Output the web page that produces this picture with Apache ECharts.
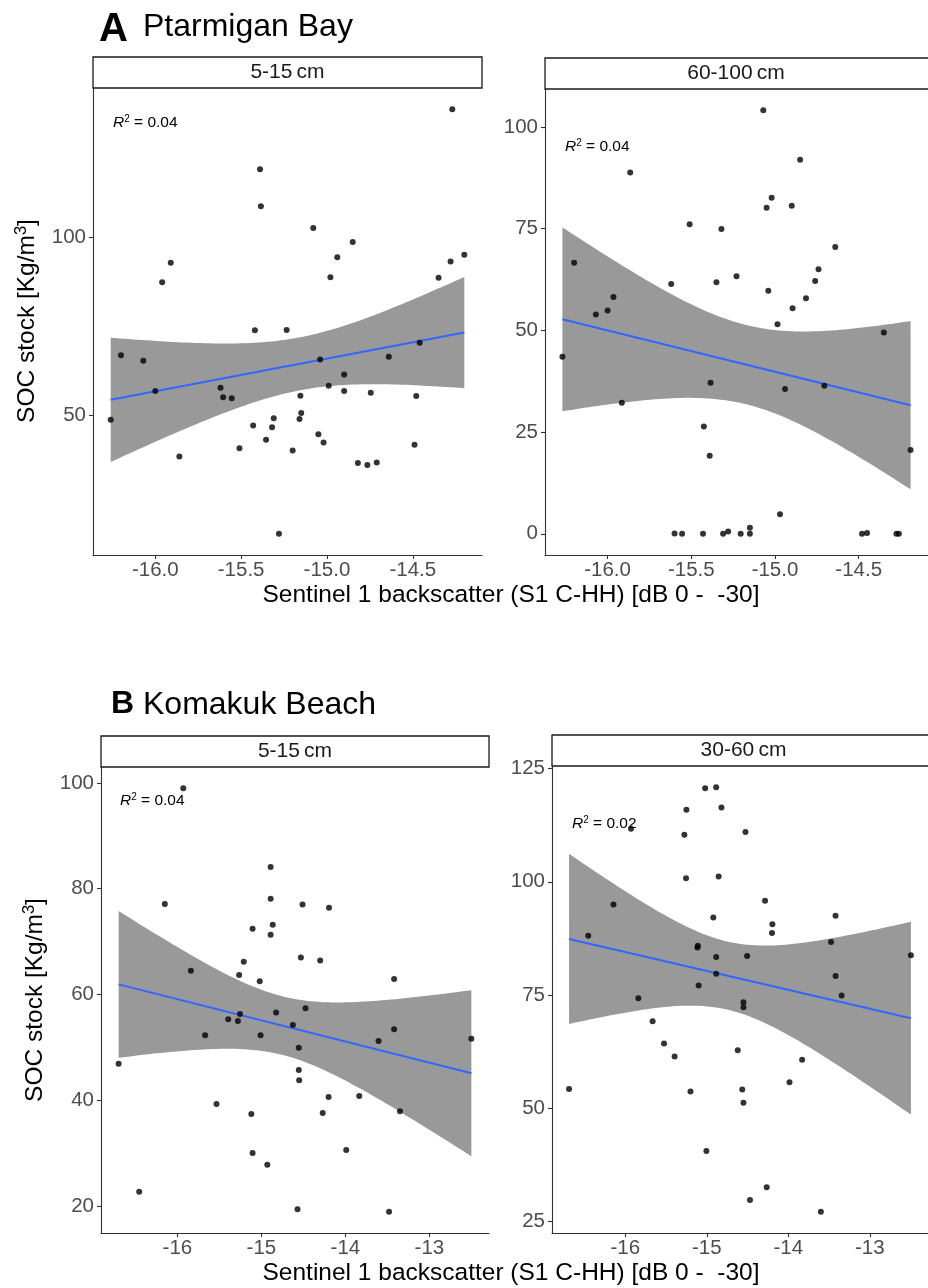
<!DOCTYPE html>
<html>
<head>
<meta charset="utf-8">
<script src="https://cdn.jsdelivr.net/npm/echarts@6/dist/echarts.min.js"></script>
<style>
  html, body { margin: 0; padding: 0; background: #fff; }
  #chart { width: 928px; height: 1288px; }
</style>
</head>
<body>
<div id="chart"></div>
<script>
// Ptarmigan Bay, 5-15 cm
const ptarShallowX = [-14.27, -15.39, -15.385, -15.08, -14.85, -14.94, -15.91, -15.96, -14.98, -14.35, -14.28, -14.20,
  -15.42, -15.235, -16.20, -16.07, -15.04, -14.64, -14.46, -14.90, -16.00, -15.62, -15.605, -15.555, -14.99, -14.90,
  -14.745, -15.155, -14.48, -15.15, -15.16, -16.26, -15.31, -15.32, -15.43, -15.355, -15.05, -15.02, -15.51, -15.20,
  -14.49, -15.86, -14.82, -14.765, -14.71, -15.28]
const ptarShallowY = [135.7, 118.9, 108.6, 102.5, 98.6, 94.3, 92.8, 87.3, 88.7, 88.6, 93.1, 95.0,
  73.9, 74.0, 66.9, 65.4, 65.7, 66.5, 70.4, 61.5, 56.9, 57.8, 55.2, 54.9, 58.4, 56.9,
  56.4, 55.6, 55.5, 50.8, 49.1, 48.9, 49.3, 46.8, 47.3, 43.3, 44.8, 42.5, 40.9, 40.3,
  41.9, 38.6, 36.8, 36.2, 36.9, 17.0]

// Ptarmigan Bay, 60-100 cm
const ptarDeepX = [-15.07, -14.85, -15.865, -15.02, -15.05, -14.90, -15.51, -15.32, -14.64, -16.20, -14.74, -14.76,
  -15.23, -15.35, -15.62, -15.04, -14.815, -15.965, -16.00, -16.07, -14.895, -14.985, -14.35, -16.27, -15.385,
  -14.94, -14.705, -15.915, -15.425, -15.39, -14.19, -14.97, -15.15, -15.60, -15.555, -15.43, -15.31, -15.28,
  -15.205, -15.15, -14.48, -14.45, -14.275, -14.26]
const ptarDeepY = [104.1, 91.9, 88.8, 82.6, 80.1, 80.6, 76.1, 74.9, 70.5, 66.6, 65.0, 62.1,
  63.3, 61.8, 61.4, 59.7, 57.9, 58.2, 54.9, 53.9, 55.4, 51.5, 49.5, 43.5, 37.1,
  35.6, 36.4, 32.2, 26.4, 19.2, 20.6, 4.8, 1.5, 0.1, 0, 0, 0, 0.6,
  0, 0, 0, 0.2, 0, 0]

// Komakuk Beach, 5-15 cm
const komShallowX = [-15.93, -14.89, -14.89, -16.15, -14.51, -14.195, -15.105, -14.865, -14.89, -14.53, -14.30,
  -15.21, -15.84, -15.265, -13.42, -15.02, -14.825, -14.475, -15.255, -15.395, -15.28, -14.625, -13.42, -15.67,
  -15.01, -13.605, -12.50, -14.555, -16.70, -14.555, -14.55, -14.20, -13.835, -15.535, -13.35, -15.12, -14.27,
  -13.99, -15.105, -14.93, -16.455, -14.57, -13.48]
const komShallowY = [99.0, 84.1, 78.1, 77.1, 77.0, 76.4, 72.4, 73.2, 71.3, 67.0, 66.4,
  66.2, 64.5, 63.7, 62.9, 62.5, 56.6, 57.4, 56.3, 55.3, 55.0, 54.2, 53.4, 52.3,
  52.3, 51.2, 51.6, 49.9, 46.9, 45.7, 43.8, 40.6, 40.8, 39.3, 37.9, 37.4, 37.6,
  30.6, 30.0, 27.8, 22.7, 19.4, 18.9]

// Komakuk Beach, 30-60 cm
const komMidX = [-14.885, -15.02, -15.25, -14.82, -15.93, -15.275, -14.525, -15.255, -14.855, -16.145, -14.285,
  -13.42, -14.92, -14.195, -14.20, -16.455, -13.475, -15.11, -15.115, -12.495, -14.885, -14.505, -14.885, -13.42,
  -15.10, -15.84, -13.345, -14.55, -14.55, -15.665, -15.525, -15.395, -14.62, -13.83, -13.985, -16.69, -15.20,
  -14.565, -14.55, -15.005, -14.265, -14.47, -13.60]
const komMidY = [120.9, 120.7, 115.9, 116.4, 111.7, 110.4, 111.0, 100.8, 101.2, 95.0, 95.8,
  92.5, 92.1, 90.6, 88.7, 88.1, 86.7, 85.9, 85.5, 83.8, 83.4, 83.6, 79.7, 79.2,
  77.1, 74.3, 74.9, 73.4, 72.3, 69.2, 64.3, 61.4, 62.8, 60.7, 55.7, 54.2, 53.7,
  54.1, 51.2, 40.5, 32.5, 29.7, 27.1]

// tick labels
const ptarXTicks = [-16.0, -15.5, -15.0, -14.5]
const ptarShallowYTicks = [50, 100]
const ptarDeepYTicks = [0, 25, 50, 75, 100]
const komXTicks = [-16, -15, -14, -13]
const komShallowYTicks = [20, 40, 60, 80, 100]
const komMidYTicks = [25, 50, 75, 100, 125]

const stripLabels = ['5-15\u2009cm', '60-100\u2009cm', '5-15\u2009cm', '30-60\u2009cm']
const r2Labels = ['0.04', '0.04', '0.04', '0.02']

const FONT = 'Liberation Sans, Arial, sans-serif'

// linear fit with 95% confidence band, like geom_smooth(method = 'lm')
function lmBand(xs, ys) {
  const n = xs.length
  const mx = xs.reduce((a, b) => a + b, 0) / n
  const my = ys.reduce((a, b) => a + b, 0) / n
  let sxx = 0, sxy = 0
  for (let i = 0; i < n; i++) {
    sxx += (xs[i] - mx) ** 2
    sxy += (xs[i] - mx) * (ys[i] - my)
  }
  const b = sxy / sxx
  const a = my - b * mx
  let sse = 0
  for (let i = 0; i < n; i++) sse += (ys[i] - a - b * xs[i]) ** 2
  const s = Math.sqrt(sse / (n - 2))
  const t = 2.02
  const x0 = Math.min(...xs), x1 = Math.max(...xs)
  const upper = [], lower = []
  for (let k = 0; k < 80; k++) {
    const x = x0 + (x1 - x0) * k / 79
    const fit = a + b * x
    const se = s * Math.sqrt(1 / n + (x - mx) ** 2 / sxx)
    upper.push([x, fit + t * se])
    lower.push([x, fit - t * se])
  }
  return { line: [[x0, a + b * x0], [x1, a + b * x1]], upper, lower }
}

function expand(vals) {
  const lo = Math.min(...vals), hi = Math.max(...vals)
  const pad = (hi - lo) * 0.05
  return [lo - pad, hi + pad]
}

const panels = [
  { xs: ptarShallowX, ys: ptarShallowY, xTicks: ptarXTicks, yTicks: ptarShallowYTicks, dec: 1,
    grid: { left: 93, top: 88, width: 389, height: 467 }, r2: [113, 123] },
  { xs: ptarDeepX, ys: ptarDeepY, xTicks: ptarXTicks, yTicks: ptarDeepYTicks, dec: 1,
    grid: { left: 545, top: 89, width: 388, height: 466 }, r2: [565, 147] },
  { xs: komShallowX, ys: komShallowY, xTicks: komXTicks, yTicks: komShallowYTicks, dec: 0,
    grid: { left: 101, top: 767, width: 388, height: 466 }, r2: [120, 801] },
  { xs: komMidX, ys: komMidY, xTicks: komXTicks, yTicks: komMidYTicks, dec: 0,
    grid: { left: 552, top: 766, width: 389, height: 467 }, r2: [572, 824] }
]

const grids = [], xAxes = [], yAxes = [], series = [], graphics = []

panels.forEach((p, i) => {
  grids.push(p.grid)
  const xr = expand(p.xs), yr = expand(p.ys)
  const axisCommon = {
    axisLine: { show: true, onZero: false, lineStyle: { color: '#333', width: 1.1 } },
    axisTick: { show: true, length: 4, lineStyle: { color: '#333', width: 1.1 } },
    splitLine: { show: false }
  }
  xAxes.push({
    gridIndex: i, type: 'value', min: xr[0], max: xr[1], ...axisCommon,
    axisTick: { ...axisCommon.axisTick, customValues: p.xTicks },
    axisLabel: { customValues: p.xTicks, color: '#4d4d4d', fontSize: 20.5, fontFamily: FONT, margin: 5,
      formatter: v => Number(v).toFixed(p.dec) }
  })
  yAxes.push({
    gridIndex: i, type: 'value', min: yr[0], max: yr[1], ...axisCommon,
    axisTick: { ...axisCommon.axisTick, customValues: p.yTicks },
    axisLabel: { customValues: p.yTicks, color: '#4d4d4d', fontSize: 20.5, fontFamily: FONT, margin: 7,
      formatter: v => String(v) }
  })

  const band = lmBand(p.xs, p.ys)
  series.push({
    type: 'custom', xAxisIndex: i, yAxisIndex: i, clip: true, silent: true, z: 1,
    data: band.upper,
    renderItem: (params, api) => {
      if (params.dataIndex !== 0) return null
      const pts = band.upper.map(d => api.coord(d))
        .concat(band.lower.slice().reverse().map(d => api.coord(d)))
      return { type: 'polygon', shape: { points: pts }, style: { fill: '#999999' } }
    }
  })
  series.push({
    type: 'line', xAxisIndex: i, yAxisIndex: i, data: band.line, showSymbol: false, z: 2,
    lineStyle: { color: '#3366FF', width: 2 }, silent: true
  })
  series.push({
    type: 'scatter', xAxisIndex: i, yAxisIndex: i, z: 3,
    data: p.xs.map((x, k) => [x, p.ys[k]]),
    symbolSize: 6, itemStyle: { color: '#000' }
  })

  // facet strip
  graphics.push({
    type: 'rect', shape: { x: p.grid.left, y: p.grid.top - 31, width: p.grid.width, height: 31 },
    style: { fill: '#fff', stroke: '#1a1a1a', lineWidth: 1.3 }, z: 10
  })
  graphics.push({
    type: 'text', x: p.grid.left + p.grid.width / 2 - (i % 2 ? 3 : 0), y: p.grid.top - 15.5, z: 11,
    style: { text: stripLabels[i], font: '21px ' + FONT, fill: '#1a1a1a', align: 'center', verticalAlign: 'middle' }
  })
  // R^2 annotation
  graphics.push({
    type: 'text', x: p.r2[0], y: p.r2[1], z: 11,
    style: {
      text: '{r|R}{s|2}{n| = ' + r2Labels[i] + '}', align: 'left', verticalAlign: 'middle',
      rich: {
        r: { fontFamily: FONT, fontSize: 15.5, fontStyle: 'italic', fill: '#000', lineHeight: 18 },
        s: { fontFamily: FONT, fontSize: 10, fill: '#000', verticalAlign: 'top', lineHeight: 18 },
        n: { fontFamily: FONT, fontSize: 15.5, fill: '#000', lineHeight: 18 }
      }
    }
  })
})

// panel titles
graphics.push(
  { type: 'text', x: 99, y: 29.5, style: { text: 'A', font: 'bold 40px ' + FONT, fill: '#000', verticalAlign: 'middle' } },
  { type: 'text', x: 143, y: 27.5, style: { text: 'Ptarmigan Bay', font: '32px ' + FONT, fill: '#000', verticalAlign: 'middle' } },
  { type: 'text', x: 111, y: 704.5, style: { text: 'B', font: 'bold 32px ' + FONT, fill: '#000', verticalAlign: 'middle' } },
  { type: 'text', x: 143, y: 705, style: { text: 'Komakuk Beach', font: '32px ' + FONT, fill: '#000', verticalAlign: 'middle' } }
)

// axis titles
const yTitle = {
  text: 'SOC stock [Kg/m{sup|3}]', align: 'center', verticalAlign: 'middle', fill: '#000',
  fontFamily: FONT, fontSize: 24.5, lineHeight: 28,
  rich: { sup: { fontFamily: FONT, fontSize: 16.5, fill: '#000', verticalAlign: 'top', lineHeight: 28 } }
}
const xTitle = 'Sentinel 1 backscatter (S1 C-HH) [dB 0 -  -30]'
graphics.push(
  { type: 'text', x: 27, y: 321, rotation: Math.PI / 2, style: { ...yTitle } },
  { type: 'text', x: 35, y: 1000, rotation: Math.PI / 2, style: { ...yTitle } },
  { type: 'text', x: 511, y: 595, style: { text: xTitle, font: '24.5px ' + FONT, fill: '#000', align: 'center', verticalAlign: 'middle' } },
  { type: 'text', x: 511, y: 1273, style: { text: xTitle, font: '24.5px ' + FONT, fill: '#000', align: 'center', verticalAlign: 'middle' } }
)

const chart = echarts.init(document.getElementById('chart'), null, { renderer: 'canvas' })
chart.setOption({
  backgroundColor: '#fff',
  animation: false,
  grid: grids,
  xAxis: xAxes,
  yAxis: yAxes,
  series: series,
  graphic: graphics
})
</script>
</body>
</html>
